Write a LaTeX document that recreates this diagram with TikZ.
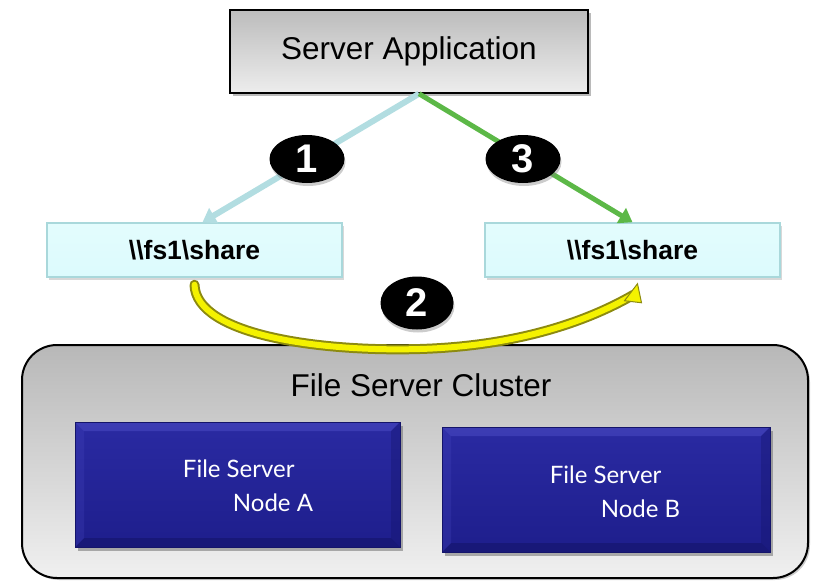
\documentclass[tikz,border=0pt]{standalone}
\usepackage{fontspec}
\setmainfont{Liberation Sans}
\newfontfamily\gill{Lato}
\usetikzlibrary{shadows,shapes.geometric,arrows.meta,calc}

\definecolor{apptop}{HTML}{BCBCBC}
\definecolor{appbot}{HTML}{EDEDED}
\definecolor{linkblue}{HTML}{B2DDE1}
\definecolor{linkgreen}{HTML}{5CB847}
\definecolor{sharefill}{HTML}{DCFBFD}
\definecolor{shareedge}{HTML}{A9D8DB}
\definecolor{clustop}{HTML}{B8B8B8}
\definecolor{clusbot}{HTML}{F0F0F0}
\definecolor{nodetop}{HTML}{2A2AA2}
\definecolor{nodebot}{HTML}{1E1E8C}
\definecolor{bevlight}{HTML}{4848C0}
\definecolor{bevdark}{HTML}{14146A}
\definecolor{moveyellow}{HTML}{F4F200}
\definecolor{moveolive}{HTML}{8C8A10}

\tikzset{
  appbox/.style={rectangle, draw=black, line width=1.5pt, inner sep=0pt,
    top color=apptop, bottom color=appbot,
    drop shadow={shadow xshift=3pt, shadow yshift=-3pt, fill=black!45, opacity=0.6},
    font=\fontsize{31.5}{34}\selectfont},
  sharebox/.style={rectangle, draw=shareedge, line width=1.5pt, inner sep=0pt,
    top color=sharefill!80!white, bottom color=sharefill,
    minimum width=295pt, minimum height=54pt,
    drop shadow={shadow xshift=2pt, shadow yshift=-3pt, fill=black!30, opacity=0.5},
    font=\fontsize{26.5}{28}\selectfont\bfseries},
  cluster/.style={rectangle, rounded corners=35pt, draw=black, line width=2pt,
    top color=clustop, bottom color=clusbot, inner sep=0pt,
    drop shadow={shadow xshift=2pt, shadow yshift=-2pt, fill=black!40, opacity=0.5}},
  serverbox/.style={rectangle, inner sep=0pt, draw=bevdark, line width=0.8pt,
    top color=nodetop, bottom color=nodebot,
    drop shadow={shadow xshift=3pt, shadow yshift=-4pt, fill=black!60, opacity=0.5},
    path picture={
      \fill[bevlight, opacity=0.6] (path picture bounding box.north west)
        -- (path picture bounding box.north east)
        -- ([shift={(-9pt,-9pt)}]path picture bounding box.north east)
        -- ([shift={(9pt,-9pt)}]path picture bounding box.north west) -- cycle;
      \fill[bevdark, opacity=0.6] (path picture bounding box.south west)
        -- (path picture bounding box.south east)
        -- ([shift={(-9pt,9pt)}]path picture bounding box.south east)
        -- ([shift={(9pt,9pt)}]path picture bounding box.south west) -- cycle;
      \fill[bevlight, opacity=0.25] (path picture bounding box.north west)
        -- ([shift={(9pt,-9pt)}]path picture bounding box.north west)
        -- ([shift={(9pt,9pt)}]path picture bounding box.south west)
        -- (path picture bounding box.south west) -- cycle;
      \fill[bevdark, opacity=0.35] (path picture bounding box.north east)
        -- ([shift={(-9pt,-9pt)}]path picture bounding box.north east)
        -- ([shift={(-9pt,9pt)}]path picture bounding box.south east)
        -- (path picture bounding box.south east) -- cycle;
    }},
  servertext/.style={text=white, align=left, inner sep=0pt,
    font=\gill\fontsize{24}{34}\selectfont},
  badge/.style={ellipse, fill=black, draw=none, inner sep=0pt,
    minimum width=75pt, minimum height=48pt, text=white,
    drop shadow={shadow xshift=1pt, shadow yshift=-3pt, fill=black!50, opacity=0.4},
    font=\fontsize{40}{40}\selectfont\bfseries},
  link/.style={line width=6pt, -{Triangle[length=13pt,width=17pt]}},
}

\begin{document}
\begin{tikzpicture}[x=1pt, y=-1pt]
\useasboundingbox (0,0) rectangle (823,581);

% cluster container and its two member servers
\node[cluster, minimum width=786pt, minimum height=233pt] (clus) at (415,461.5) {};
\node[font=\fontsize{31.5}{34}\selectfont] (clustitle) at (421,385) {File Server Cluster};
\node[serverbox, minimum width=325pt, minimum height=125pt] (nA) at (237.5,484.5) {};
\node[serverbox, minimum width=328pt, minimum height=125pt] (nB) at (606,489.5) {};
\node[servertext] (tA) at (248,486) {File Server\\\hspace{50pt}Node A};
\node[servertext] (tB) at (615,492) {File Server\\\hspace{51pt}Node B};

% application and the share it reaches
\node[appbox, minimum width=358pt, minimum height=83pt] (app) at (409,51.5) {Server Application};
\node[sharebox] (sL) at (194.5,250) {\textbackslash\textbackslash fs1\textbackslash share};
\node[sharebox] (sR) at (632.5,250) {\textbackslash\textbackslash fs1\textbackslash share};

% step 1 and step 3 connections
\draw[link, linkblue] ([xshift=10pt]app.south) -- ([xshift=8pt]sL.north);
\draw[link, linkgreen, line width=5pt] ([xshift=10pt]app.south) -- (sR.north);

% step 2: the share moves to the other node
\draw[moveolive, line width=10pt, line cap=round]
  ([yshift=-7pt]sL.south) .. controls (196,335) and (320,352) .. (420,349)
  .. controls (520,346) and (590,320) .. ([xshift=1pt,yshift=-17pt]sR.south);
\draw[moveyellow, line width=6pt, line cap=round]
  ([yshift=-7pt]sL.south) .. controls (196,335) and (320,352) .. (420,349)
  .. controls (520,346) and (590,320) .. ([xshift=1pt,yshift=-17pt]sR.south);
\draw[moveolive, line width=1pt, fill=moveyellow]
  ([xshift=-8pt,yshift=-23pt]sR.south) -- ([xshift=5pt,yshift=-6pt]sR.south)
  -- ([xshift=9pt,yshift=-25pt]sR.south) -- cycle;

% step badges
\node[badge] (b1) at (307,159) {1};
\node[badge] (b3) at (523,159) {3};
\node[badge, minimum width=73pt, minimum height=53pt] (b2) at (417,303) {2};
\end{tikzpicture}
\end{document}
